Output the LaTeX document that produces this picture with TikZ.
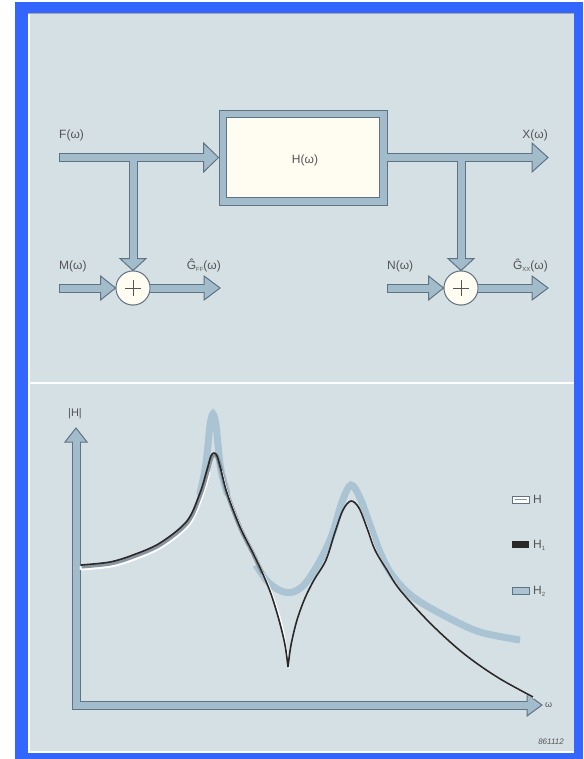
\documentclass[tikz,border=0pt]{standalone}
\usepackage{fontspec}
\setmainfont{Liberation Sans}
\usetikzlibrary{calc}
\definecolor{bordblue}{RGB}{51,102,255}
\definecolor{panel}{RGB}{213,224,228}
\definecolor{arrowcol}{RGB}{163,188,203}
\definecolor{edgecol}{RGB}{95,115,130}
\definecolor{cream}{RGB}{255,252,242}
\definecolor{txt}{RGB}{85,85,85}
\definecolor{htwo}{RGB}{170,196,211}
\definecolor{hband}{RGB}{135,150,160}
\definecolor{hone}{RGB}{45,40,40}
\tikzset{
  shaftout/.style={line width=9pt, draw=edgecol},
  shaftin/.style={line width=7pt, draw=arrowcol},
  headstyle/.style={fill=arrowcol, draw=edgecol, line width=1pt, line join=miter},
  lbl/.style={text=txt, inner sep=0pt, font=\fontsize{12}{14}\selectfont},
  sumnode/.style={circle, minimum size=34pt, inner sep=0pt, fill=cream, draw=edgecol, line width=0.9pt,
    path picture={\draw[txt, line width=0.8pt]
      ([xshift=-8pt]path picture bounding box.center) -- ([xshift=8pt]path picture bounding box.center)
      ([yshift=-8pt]path picture bounding box.center) -- ([yshift=8pt]path picture bounding box.center);}},
  curveHtwo/.style={line width=7pt, draw=htwo},
  curveHone/.style={line width=1.6pt, draw=hone, line join=round},
}
\newcommand\arrowhead[4]{%
  \path ($(#1)!#3!(#2)$) coordinate (hb);
  \filldraw[headstyle] (#1) -- ($(hb)!#4!90:(#1)$) -- ($(hb)!#4!-90:(#1)$) -- cycle;
}
\newcommand\sub[1]{\raisebox{-2pt}{\fontsize{6}{6}\selectfont #1}}
\begin{document}
\begin{tikzpicture}[x=1pt,y=-1pt]
\useasboundingbox (0,0) rectangle (583,759);
% frame and panel
\fill[white] (0,0) rectangle (583,759);
\fill[bordblue] (15,2) rectangle (583,759);
\fill[panel] (28,13) rectangle (574,753);
\draw[white, line width=1.5pt] (28.8,13) -- (28.8,752.2) -- (574,752.2);
\draw[gray!70, line width=0.8pt] (28,13.5) -- (574,13.5);
\draw[white!96!panel, line width=2pt] (28,383) -- (574,383);

% ---------- block diagram ----------
\node[rectangle, minimum width=168pt, minimum height=95pt, inner sep=0pt, fill=arrowcol, draw=edgecol, line width=0.9pt] (hbox) at (303,157.5) {};
\node[rectangle, minimum width=153pt, minimum height=80pt, inner sep=0pt, fill=cream, draw=edgecol, line width=0.9pt] (hin) at (303,157.5) {};
\node[lbl] (hlabel) at (305,160) {H(ω)};

\node[sumnode] (c1) at (133,288) {};
\node[sumnode] (c2) at (461,288) {};

\coordinate (fin) at (59,157.5);
\coordinate (j1) at (133,157.5);
\coordinate (min) at (59,288);
\coordinate (gff) at (220,288);
\coordinate (xstart) at (383,157.5);
\coordinate (xout) at (548,157.5);
\coordinate (j2) at (461,157.5);
\coordinate (nin) at (387,288);
\coordinate (gxx) at (548,288);

% pass 1: shaft outlines
\draw[shaftout] (fin) -- ($(hbox.west)!15pt!(fin)$);
\draw[shaftout] (j1) -- ($(c1.north)!12pt!(j1)$);
\draw[shaftout] (min) -- ($(c1.west)!15pt!(min)$);
\draw[shaftout] (c1.east) -- ($(gff)!16pt!(c1.east)$);
\draw[shaftout] (hbox.east) -- ($(xout)!16pt!(hbox.east)$);
\draw[shaftout] (j2) -- ($(c2.north)!12pt!(j2)$);
\draw[shaftout] (nin) -- ($(c2.west)!15pt!(nin)$);
\draw[shaftout] (c2.east) -- ($(gxx)!16pt!(c2.east)$);
% pass 2: heads
\arrowhead{hbox.west}{fin}{15pt}{14.5pt}
\arrowhead{c1.north}{j1}{12pt}{13pt}
\arrowhead{c1.west}{min}{15pt}{12pt}
\arrowhead{gff}{c1.east}{16pt}{12pt}
\arrowhead{xout}{hbox.east}{16pt}{14.5pt}
\arrowhead{c2.north}{j2}{12pt}{13pt}
\arrowhead{c2.west}{nin}{15pt}{12pt}
\arrowhead{gxx}{c2.east}{16pt}{12pt}
% pass 3: shaft fills
\draw[shaftin, shorten <=1pt] (fin) -- ($(hbox.west)!13pt!(fin)$);
\draw[shaftin] (j1) -- ($(c1.north)!10pt!(j1)$);
\draw[shaftin, shorten <=1pt] (min) -- ($(c1.west)!13pt!(min)$);
\draw[shaftin] (c1.east) -- ($(gff)!14pt!(c1.east)$);
\draw[shaftin] (xstart) -- ($(xout)!14pt!(xstart)$);
\draw[shaftin] (j2) -- ($(c2.north)!10pt!(j2)$);
\draw[shaftin, shorten <=1pt] (nin) -- ($(c2.west)!13pt!(nin)$);
\draw[shaftin] (c2.east) -- ($(gxx)!14pt!(c2.east)$);
% redraw summing junctions on top
\node[sumnode] at (c1) {};
\node[sumnode] at (c2) {};

% labels
\node[lbl, anchor=base west] (lf) at (59,139) {F(ω)};
\node[lbl, anchor=base west] (lm) at (59,269) {M(ω)};
\node[lbl, anchor=base east] (lgff) at (221,269) {Ĝ\sub{FF}(ω)};
\node[lbl, anchor=base east] (lx) at (548,139) {X(ω)};
\node[lbl, anchor=base west] (ln) at (387,269) {N(ω)};
\node[lbl, anchor=base east] (lgxx) at (548,269) {Ĝ\sub{XX}(ω)};

% ---------- plot ----------
\coordinate (orig) at (76,705);
\coordinate (ytip) at (76,428);
\coordinate (xtip) at (542,705);
\draw[shaftout, line join=miter] ($(ytip)!14pt!(orig)$) -- (orig) -- ($(xtip)!15pt!(orig)$);
\arrowhead{ytip}{orig}{14pt}{11pt}
\arrowhead{xtip}{orig}{15pt}{11pt}
\draw[shaftin, line join=miter] ($(ytip)!12pt!(orig)$) -- (orig) -- ($(xtip)!13pt!(orig)$);
\node[lbl, font=\fontsize{11}{12}\selectfont] (ly) at (75,414) {|H|};
\node[lbl, font=\fontsize{9}{10}\selectfont, anchor=west] (lw) at (545,705) {ω};

% H2 curve
\draw[curveHtwo, line cap=round] plot[smooth, tension=0.6] coordinates {(200,493) (205,470) (208,445) (210,425) (213,414) (216,425) (218,445) (221,470) (227,493)};
\draw[curveHtwo] plot[smooth, tension=0.55] coordinates {(256,565) (267,581) (279,590) (291,592.5) (303,586) (314,571) (324,553) (333,532) (342,502) (351,485) (360,498) (370,525) (380,552) (392,575) (413,597) (447,617) (480,632) (520,640)};

% H band (true H)
\begin{scope}[xshift=1pt, yshift=-3pt]
\draw[white, line width=5pt, line cap=round] plot[smooth, tension=0.55] coordinates {(81,565) (110,562) (133,555) (160,543) (187,521) (200,493) (207,470)};
\end{scope}
\begin{scope}[xshift=0.5pt, yshift=-1.5pt]
\draw[hband, line width=4pt] plot[smooth, tension=0.55] coordinates {(81,565) (110,562) (133,555) (160,543) (187,521) (200,493) (207,470) (211,456) (214,453) (217,456) (221,470) (227,493) (240,527) (253,553) (262,572)};
\end{scope}
\begin{scope}[xshift=1pt, yshift=-1pt]
\draw[white, line width=1.4pt] plot[smooth, tension=0.55] coordinates {(221,470) (227,493) (240,527) (253,553) (262,572) (270,590) (280,620) (285,645) (288,667)};
\draw[white, line width=1.4pt] plot[smooth, tension=0.55] coordinates {(359,508) (367,528) (375,550) (387,570) (400,590) (430,623) (463,653) (497,677) (533,697)};
\end{scope}

% H1 curve
\draw[curveHone] plot[smooth, tension=0.55] coordinates {(81,565) (110,562) (133,555) (160,543) (187,521) (200,493) (207,470) (211,456) (214,453) (217,456) (221,470) (227,493) (240,527) (253,553) (262,572) (271,594) (279,620) (285,645) (288,667)};
\draw[curveHone] plot[smooth, tension=0.55] coordinates {(288,667) (291,645) (297,620) (305,598) (314,580) (326,560) (335,532) (343,510) (351,501) (359,508) (367,528) (375,550) (387,570) (400,590) (430,623) (463,653) (497,677) (533,697)};

% legend
\draw[edgecol, fill=white, line width=0.8pt] (512,496) rectangle (529,503);
\draw[hband, line width=1.5pt] (514.5,499.5) -- (526.5,499.5);
\fill[hone] (512,541) rectangle (529,548);
\draw[edgecol, fill=htwo, line width=0.8pt] (512,587) rectangle (529,594);
\node[lbl, anchor=base west] (legh) at (533,503.5) {H};
\node[lbl, anchor=base west] (legh1) at (533,548.5) {H\sub{1}};
\node[lbl, anchor=base west] (legh2) at (533,594.5) {H\sub{2}};

\node[text=txt, inner sep=0pt, font=\fontsize{8}{9}\selectfont\itshape] (code) at (551,742) {861112};
\end{tikzpicture}
\end{document}
